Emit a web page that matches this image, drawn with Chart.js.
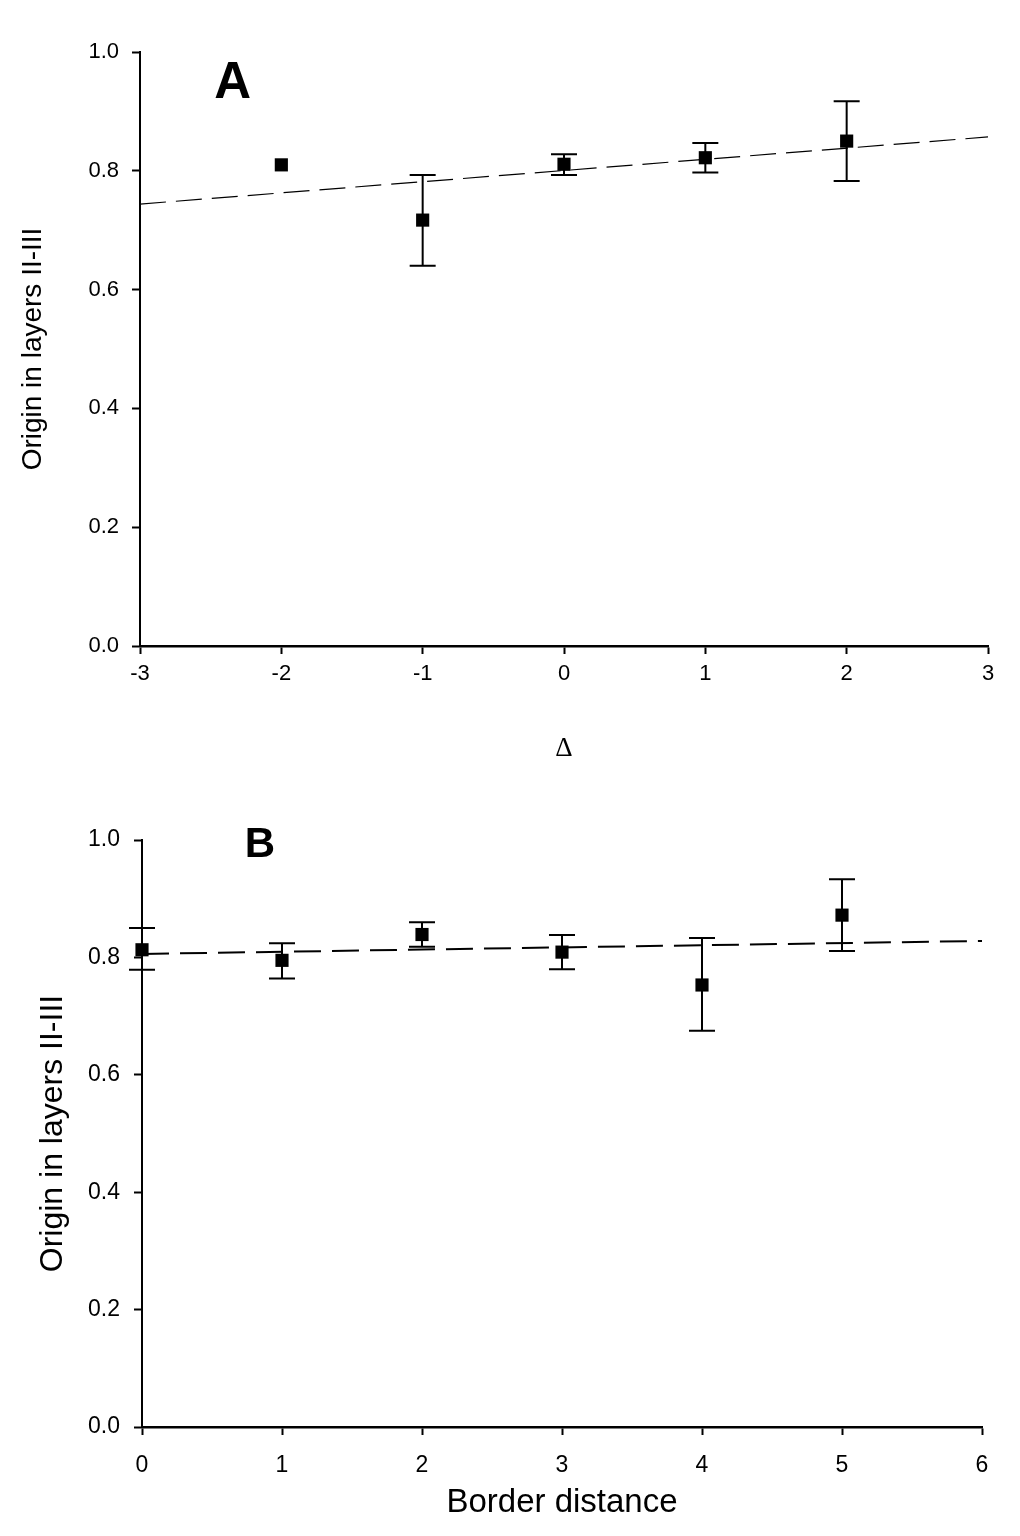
<!DOCTYPE html>
<html>
<head>
<meta charset="utf-8">
<script src="https://cdn.jsdelivr.net/npm/chart.js@4.4.1/dist/chart.umd.min.js"></script>
<style>
  html, body { margin: 0; padding: 0; background: #fff; }
  .panel { position: relative; width: 1020px; }
  #wrapA { height: 790px; }
  #wrapB { height: 746px; }
</style>
</head>
<body>
<div class="panel" id="wrapA"><canvas id="chartA"></canvas></div>
<div class="panel" id="wrapB"><canvas id="chartB"></canvas></div>
<script>
// panel A: delta vs origin in layers II-III
const deltaX = [-2, -1, 0, 1, 2];
const deltaMean = [0.810, 0.717, 0.811, 0.822, 0.850];
const deltaLow = [null, 0.640, 0.793, 0.797, 0.783];
const deltaHigh = [null, 0.793, 0.828, 0.847, 0.917];
const fitAx = [-3, 3];
const fitAy = [0.744, 0.857];

// panel B: border distance vs origin in layers II-III
const borderX = [0, 1, 2, 3, 4, 5];
const borderMean = [0.813, 0.795, 0.839, 0.809, 0.753, 0.872];
const borderLow = [0.779, 0.764, 0.818, 0.780, 0.675, 0.811];
const borderHigh = [0.850, 0.824, 0.860, 0.838, 0.833, 0.933];
const fitBx = [0, 6];
const fitBy = [0.806, 0.828];

const yTickLabels = ['0.0', '0.2', '0.4', '0.6', '0.8', '1.0'];
const yTitle = 'Origin in layers II-III';

const SANS = '"Liberation Sans", Arial, sans-serif';

// error bars + panel letter, drawn through the chart scales
const errorBars = {
  id: 'errorBars',
  afterDatasetsDraw(chart, args, opts) {
    const { ctx, scales: { x, y } } = chart;
    ctx.save();
    ctx.strokeStyle = '#000';
    ctx.lineWidth = 2;
    opts.xs.forEach((xv, i) => {
      if (opts.low[i] == null) return;
      const px = x.getPixelForValue(xv);
      const lo = y.getPixelForValue(opts.low[i]);
      const hi = y.getPixelForValue(opts.high[i]);
      ctx.beginPath();
      ctx.moveTo(px, lo); ctx.lineTo(px, hi);
      ctx.moveTo(px - 13, lo); ctx.lineTo(px + 13, lo);
      ctx.moveTo(px - 13, hi); ctx.lineTo(px + 13, hi);
      ctx.stroke();
    });
    ctx.fillStyle = '#000';
    ctx.font = 'bold ' + opts.letterSize + 'px ' + SANS;
    ctx.textAlign = 'center';
    ctx.textBaseline = 'middle';
    ctx.fillText(opts.letter, x.getPixelForValue(opts.lx), y.getPixelForValue(opts.ly));
    ctx.restore();
  }
};

const whiteBg = {
  id: 'whiteBg',
  beforeDraw(chart) {
    const c = chart.ctx;
    c.save();
    c.fillStyle = '#fff';
    c.fillRect(0, 0, chart.width, chart.height);
    c.restore();
  }
};

function makeChart(id, cfg) {
  return new Chart(document.getElementById(id), {
    type: 'scatter',
    data: {
      datasets: [
        {
          data: cfg.fitX.map((v, i) => ({ x: v, y: cfg.fitY[i] })),
          showLine: true,
          borderColor: '#000',
          borderWidth: cfg.fitWidth,
          borderDash: cfg.fitDash,
          pointRadius: 0,
          fill: false
        },
        {
          data: cfg.xs.map((v, i) => ({ x: v, y: cfg.mean[i] })),
          pointStyle: 'rect',
          pointRadius: 9.3,
          backgroundColor: '#000',
          borderColor: '#000',
          borderWidth: 0,
          clip: false
        }
      ]
    },
    options: {
      responsive: true,
      maintainAspectRatio: false,
      animation: false,
      events: [],
      layout: { padding: cfg.padding },
      plugins: {
        legend: { display: false },
        tooltip: { enabled: false },
        errorBars: {
          xs: cfg.xs, low: cfg.low, high: cfg.high,
          letter: cfg.letter, lx: cfg.lx, ly: cfg.ly, letterSize: cfg.letterSize
        }
      },
      scales: {
        x: {
          type: 'linear',
          min: cfg.xMin, max: cfg.xMax,
          afterFit: s => { s.height = cfg.xAxisH; },
          ticks: {
            stepSize: 1,
            color: '#000',
            padding: cfg.xTickPad,
            font: { family: SANS, size: cfg.tickSize },
            maxRotation: 0
          },
          grid: { drawOnChartArea: false, drawTicks: true, tickLength: 8, tickWidth: 2, tickColor: '#000' },
          border: { display: true, color: '#000', width: 2.5 },
          title: {
            display: true,
            text: cfg.xTitle,
            color: '#000',
            font: cfg.xTitleFont,
            padding: { top: 0, bottom: cfg.xTitlePad }
          }
        },
        y: {
          min: 0, max: 1,
          afterFit: s => { s.width = cfg.yAxisW; },
          ticks: {
            stepSize: 0.2,
            color: '#000',
            padding: cfg.yTickPad,
            font: { family: SANS, size: cfg.tickSize },
            callback: (v) => yTickLabels[Math.round(v * 5)]
          },
          grid: { drawOnChartArea: false, drawTicks: true, tickLength: 8, tickWidth: 2, tickColor: '#000' },
          border: { display: true, color: '#000', width: 2 },
          title: {
            display: true,
            text: yTitle,
            color: '#000',
            font: { family: SANS, size: cfg.yTitleSize },
            padding: { top: cfg.yTitlePad, bottom: 0 }
          }
        }
      }
    },
    plugins: [whiteBg, errorBars]
  });
}

makeChart('chartA', {
  xs: deltaX, mean: deltaMean, low: deltaLow, high: deltaHigh,
  fitX: fitAx, fitY: fitAy, fitWidth: 1.2, fitDash: [26, 10],
  xMin: -3, xMax: 3,
  padding: { top: 52, left: 0, right: 32, bottom: 0 },
  xAxisH: 144, yAxisW: 140,
  tickSize: 22, xTickPad: 7, yTickPad: 13,
  xTitle: '\u0394', xTitleFont: { family: '"Liberation Serif", "Times New Roman", serif', size: 27 }, xTitlePad: 25,
  yTitleSize: 28, yTitlePad: 16,
  letter: 'A', lx: -2.345, ly: 0.947, letterSize: 51
});

makeChart('chartB', {
  xs: borderX, mean: borderMean, low: borderLow, high: borderHigh,
  fitX: fitBx, fitY: fitBy, fitWidth: 2, fitDash: [27, 11],
  xMin: 0, xMax: 6,
  padding: { top: 50, left: 0, right: 38, bottom: 0 },
  xAxisH: 109, yAxisW: 142,
  tickSize: 23, xTickPad: 17, yTickPad: 14,
  xTitle: 'Border distance', xTitleFont: { family: SANS, size: 33 }, xTitlePad: 13,
  yTitleSize: 32, yTitlePad: 34,
  letter: 'B', lx: 0.843, ly: 0.991, letterSize: 42
});
</script>
</body>
</html>
